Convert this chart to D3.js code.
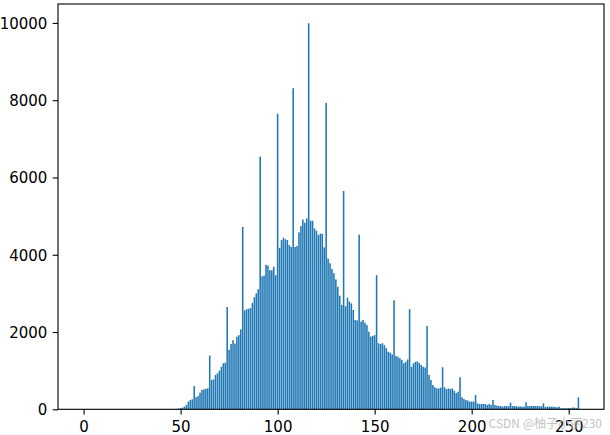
<!DOCTYPE html>
<html>
<head>
<meta charset="utf-8">
<script src="https://cdn.jsdelivr.net/npm/d3@7"></script>
<style>
  body { margin: 0; background: #fff; }
  svg { display: block; font-family: "DejaVu Sans", sans-serif; }
</style>
</head>
<body>
<svg id="chart" width="610" height="435"></svg>
<script>
// pixel counts per grey level 0..255
const counts = [
  0, 0, 0, 0, 0, 0, 0, 0, 0, 0,
  0, 0, 0, 0, 0, 0, 0, 0, 0, 0,
  0, 0, 0, 0, 0, 0, 0, 0, 0, 0,
  0, 0, 0, 0, 0, 0, 0, 0, 0, 0,
  0, 0, 0, 0, 0, 0, 0, 0, 10, 20,
  30, 45, 70, 110, 200, 240, 260, 600, 310, 345,
  430, 500, 517, 530, 543, 1390, 760, 775, 890, 930,
  1000, 1100, 1190, 1205, 2650, 1540, 1690, 1790, 1700, 1880,
  1920, 2070, 4720, 2560, 2590, 2600, 2620, 2750, 2900, 3000,
  3110, 6540, 3440, 3460, 3740, 3720, 3600, 3600, 3690, 3470,
  7650, 4180, 4380, 4440, 4400, 4380, 4250, 4200, 8310, 4200,
  4230, 4580, 4740, 4910, 4830, 4940, 9990, 4880, 4880, 4680,
  4620, 4510, 4550, 4540, 4190, 7930, 3900, 3780, 3630, 3520,
  3360, 3170, 2940, 2700, 5650, 2670, 2890, 2790, 2740, 2570,
  2310, 2300, 4520, 2270, 2310, 2240, 2180, 2010, 1880, 1900,
  1920, 3470, 1710, 1690, 1710, 1660, 1580, 1490, 1465, 1420,
  2820, 1380, 1360, 1320, 1275, 1190, 1230, 1290, 2590, 1100,
  1190, 1230, 1240, 1200, 1150, 1100, 1080, 2160, 890, 760,
  630, 570, 540, 540, 560, 1090, 570, 520, 540, 525,
  540, 483, 420, 457, 830, 310, 267, 241, 224, 200,
  198, 198, 370, 155, 138, 138, 138, 138, 112, 138,
  112, 241, 112, 95, 86, 86, 69, 86, 86, 80,
  172, 86, 86, 80, 69, 75, 69, 69, 181, 86,
  86, 86, 86, 86, 86, 80, 80, 155, 60, 69,
  69, 69, 69, 60, 52, 70, 26, 30, 26, 26,
  30, 30, 43, 43, 30, 310
];
const levels = counts.map((c, i) => i);

const xTicks = [0, 50, 100, 150, 200, 250];
const yTicks = [0, 2000, 4000, 6000, 8000, 10000];
const watermark = "CSDN @柚子小丽230";

const box = { left: 58, right: 604, top: 4, bottom: 409.3 };
const barWidth = 0.8;

const svg = d3.select('#chart');

// matplotlib style 5% margins
const xLo = -barWidth / 2, xHi = levels.length - 1 + barWidth / 2;
const xPad = (xHi - xLo) * 0.05;
const x = d3.scaleLinear()
    .domain([xLo - xPad, xHi + xPad])
    .range([box.left, box.right]);

const y = d3.scaleLinear()
    .domain([0, d3.max(counts) * 1.05])
    .range([box.bottom, box.top]);

svg.append('g')
    .selectAll('rect')
    .data(levels.filter(i => counts[i] > 0))
    .enter()
    .append('rect')
    .attr('x', i => x(i - barWidth / 2))
    .attr('width', i => x(i + barWidth / 2) - x(i - barWidth / 2))
    .attr('y', i => y(counts[i]))
    .attr('height', i => y(0) - y(counts[i]))
    .attr('fill', '#1f77b4');

const xAxis = svg.append('g')
    .attr('transform', `translate(0, ${box.bottom})`)
    .call(d3.axisBottom(x).tickValues(xTicks).tickSize(5.3).tickPadding(5.3));

const yAxis = svg.append('g')
    .attr('transform', `translate(${box.left}, 0)`)
    .call(d3.axisLeft(y).tickValues(yTicks).tickSize(5.3).tickPadding(5.3).tickFormat(d3.format('d')));

[xAxis, yAxis].forEach(a => {
    a.select('.domain').remove();
    a.selectAll('line').attr('stroke', '#000').attr('stroke-width', 1.1);
    a.selectAll('text')
        .attr('fill', '#000')
        .style('font-family', '"DejaVu Sans", sans-serif')
        .style('font-size', '15px');
});
xAxis.selectAll('text').attr('dy', '0.78em');
yAxis.selectAll('text').attr('dy', '0.36em');

// spines
svg.append('rect')
    .attr('x', box.left)
    .attr('y', box.top)
    .attr('width', box.right - box.left)
    .attr('height', box.bottom - box.top)
    .attr('fill', 'none')
    .attr('stroke', '#000')
    .attr('stroke-width', 1.1);

svg.append('text')
    .attr('x', 602)
    .attr('y', 428)
    .attr('text-anchor', 'end')
    .attr('fill', '#c4c4c4')
    .style('font-family', '"Noto Sans CJK SC", "DejaVu Sans", sans-serif')
    .style('font-size', '12px')
    .text(watermark);
</script>
</body>
</html>
